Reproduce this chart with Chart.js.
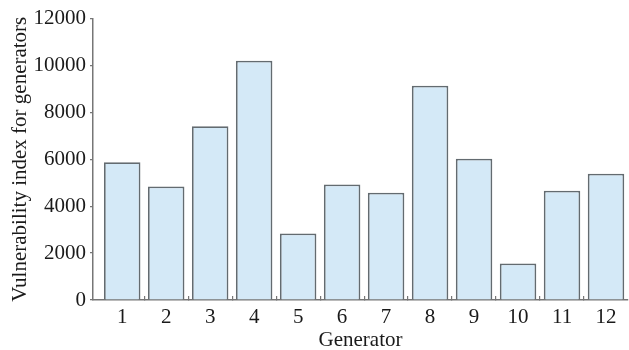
<!DOCTYPE html>
<html>
<head>
<meta charset="utf-8">
<script src="https://cdn.jsdelivr.net/npm/chart.js@4"></script>
<style>
  html, body { margin: 0; padding: 0; background: #fff; }
  #wrap { width: 629px; height: 350px; }
</style>
</head>
<body>
<div id="wrap"><canvas id="c" width="629" height="350"></canvas></div>
<script>
const generators = [1, 2, 3, 4, 5, 6, 7, 8, 9, 10, 11, 12];
const vulnerability = [5870, 4843, 7410, 10203, 2832, 4928, 4569, 9134, 6024, 1561, 4655, 5382];
const yTicks = [0, 2000, 4000, 6000, 8000, 10000, 12000];
const xTitle = 'Generator';
const yTitle = 'Vulnerability index for generators';

const axisColor = '#767676';
const textColor = '#1a1a1a';
const font = { family: 'Liberation Serif', size: 21 };

new Chart(document.getElementById('c'), {
  type: 'bar',
  data: {
    datasets: [{
      data: generators.map((g, i) => ({ x: g, y: vulnerability[i] })),
      backgroundColor: '#d4e9f7',
      borderColor: '#636b70',
      borderWidth: 1.8,
      barPercentage: 1.66,
      categoryPercentage: 1
    }]
  },
  options: {
    responsive: false,
    animation: false,
    devicePixelRatio: 1,
    layout: { padding: { top: 18.5, right: 1, left: 0, bottom: 0 } },
    plugins: { legend: { display: false }, tooltip: { enabled: false } },
    scales: {
      x: {
        type: 'linear',
        offset: false,
        min: 0.336,
        max: 12.5,
        afterBuildTicks: (s) => {
          const t = [];
          generators.forEach((g, i) => {
            t.push({ value: g });
            if (i < generators.length - 1) t.push({ value: g + 0.5 });
          });
          s.ticks = t;
        },
        afterFit: (s) => { s.height = 50; },
        ticks: {
          autoSkip: false,
          maxRotation: 0,
          padding: 9,
          color: textColor,
          font: font,
          callback: (v) => Number.isInteger(v) ? String(v) : ''
        },
        grid: {
          offset: false,
          drawOnChartArea: false,
          tickLength: -4,
          lineWidth: 1.2,
          color: (ctx) => (ctx.tick && !Number.isInteger(ctx.tick.value)) ? axisColor : 'rgba(0,0,0,0)'
        },
        border: { display: true, color: axisColor, width: 1.5 },
        title: { display: true, text: xTitle, color: textColor, font: font, padding: { top: 4, bottom: -3 } }
      },
      y: {
        min: 0,
        max: 12000,
        afterBuildTicks: (s) => { s.ticks = yTicks.map(v => ({ value: v })); },
        afterFit: (s) => { s.width = 93; },
        ticks: { color: textColor, font: font, padding: 4, callback: (v) => String(v) },
        grid: { drawOnChartArea: false, tickLength: 3, color: axisColor, lineWidth: 1.2 },
        border: { display: true, color: axisColor, width: 1.5 },
        title: { display: true, text: yTitle, color: textColor, font: font, padding: { top: 8, bottom: 0 } }
      }
    }
  }
});
</script>
</body>
</html>
